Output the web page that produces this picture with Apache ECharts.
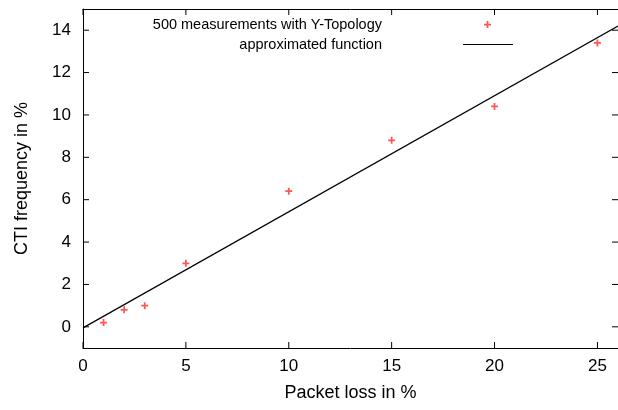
<!DOCTYPE html>
<html>
<head>
<meta charset="utf-8">
<script src="https://cdn.jsdelivr.net/npm/echarts@6/dist/echarts.min.js"></script>
<style>
  html, body { margin: 0; padding: 0; background: #fff; }
  #chart { width: 618px; height: 410px; }
</style>
</head>
<body>
<div id="chart"></div>
<script>
// measured points (packet loss %, CTI frequency %)
var lossValues = [1, 2, 3, 5, 10, 15, 20, 25];
var ctiValues = [0.2, 0.8, 1.0, 3.0, 6.4, 8.8, 10.4, 13.4];
// fitted line end points
var fitX = [0, 26];
var fitY = [-0.05, 14.2];
var xTicks = [0, 5, 10, 15, 20, 25];
var yTicks = [0, 2, 4, 6, 8, 10, 12, 14];

var seriesNames = ['500 measurements with Y-Topology', 'approximated function'];
var plusPath = 'path://M3,0 H5 V3 H8 V5 H5 V8 H3 V5 H0 V3 H3 Z';
var linePath = 'path://M0,0 H50 V1.2 H0 Z';
var font = 'Liberation Sans, Arial, sans-serif';
var xMin = 0, xMax = 26, yMin = -1, yMax = 15;

var scatterData = lossValues.map(function (x, i) { return [x, ctiValues[i]]; });
var fitData = fitX.map(function (x, i) { return [x, fitY[i]]; });

// gnuplot style mirrored ticks: side 0 bottom, 1 top, 2 left, 3 right
var tickData = [];
xTicks.forEach(function (v) { tickData.push([v, 0]); tickData.push([v, 1]); });
yTicks.forEach(function (v) { tickData.push([v, 2]); tickData.push([v, 3]); });

var myChart = echarts.init(document.getElementById('chart'), null, { renderer: 'canvas' });

function renderTick(params, api) {
    var v = api.value(0);
    var side = api.value(1);
    var len = 6;
    var p, q;
    if (side === 0) {
        p = api.coord([v, yMin]); q = [p[0], p[1] - len];
    } else if (side === 1) {
        p = api.coord([v, yMax]); q = [p[0], p[1] + len];
    } else if (side === 2) {
        p = api.coord([xMin, v]); q = [p[0] + len, p[1]];
    } else {
        p = api.coord([xMax, v]); q = [p[0] - len, p[1]];
    }
    return {
        type: 'line',
        shape: { x1: p[0], y1: p[1], x2: q[0], y2: q[1] },
        style: { stroke: '#000', lineWidth: 1 }
    };
}

var option = {
    backgroundColor: '#fff',
    animation: false,
    textStyle: { fontFamily: font },
    grid: { left: 83, top: 9, width: 539, height: 339, show: false },
    legend: [{
        data: [{ name: seriesNames[0], icon: plusPath }],
        right: 127, top: 17, padding: 0,
        align: 'right', itemWidth: 7, itemHeight: 7,
        textStyle: { fontSize: 14.5, color: '#000', fontFamily: font, padding: [0, 97, 0, 0] }
    }, {
        data: [{ name: seriesNames[1], icon: linePath }],
        right: 105, top: 37, padding: 0,
        align: 'right', itemWidth: 50, itemHeight: 1.2,
        textStyle: { fontSize: 14.5, color: '#000', fontFamily: font, padding: [0, 76, 0, 0] }
    }],
    xAxis: [{
        type: 'value', min: xMin, max: xMax, interval: 5,
        name: 'Packet loss in %', nameLocation: 'middle', nameGap: 36,
        nameTextStyle: { fontSize: 18, color: '#000', fontFamily: font },
        axisLine: { show: true, onZero: false, lineStyle: { color: '#000', width: 1 } },
        axisTick: { show: false },
        axisLabel: { fontSize: 17, color: '#000', margin: 10, fontFamily: font, showMaxLabel: false },
        splitLine: { show: false }
    }, {
        type: 'value', min: xMin, max: xMax, interval: 5, position: 'top',
        axisLine: { show: true, onZero: false, lineStyle: { color: '#000', width: 1 } },
        axisTick: { show: false },
        axisLabel: { show: false },
        splitLine: { show: false }
    }],
    yAxis: [{
        type: 'value', min: yMin, max: yMax,
        name: 'CTI frequency in %', nameLocation: 'middle', nameGap: 52,
        nameTextStyle: { fontSize: 18, color: '#000', fontFamily: font },
        axisLine: { show: true, onZero: false, lineStyle: { color: '#000', width: 1 } },
        axisTick: { show: false },
        axisLabel: { customValues: yTicks, fontSize: 17, color: '#000', margin: 12, fontFamily: font },
        splitLine: { show: false }
    }],
    series: [{
        name: 'ticks',
        type: 'custom',
        silent: true,
        renderItem: renderTick,
        data: tickData,
        z: 1
    }, {
        name: seriesNames[0],
        type: 'scatter',
        symbol: plusPath,
        symbolSize: 7,
        itemStyle: { color: '#ff2a2a' },
        data: scatterData
    }, {
        name: seriesNames[1],
        type: 'line',
        symbol: 'none',
        lineStyle: { color: '#000', width: 1.2 },
        itemStyle: { color: '#000' },
        data: fitData
    }]
};
if (option && typeof option === "object") {
    myChart.setOption(option, true);
}
</script>
</body>
</html>
